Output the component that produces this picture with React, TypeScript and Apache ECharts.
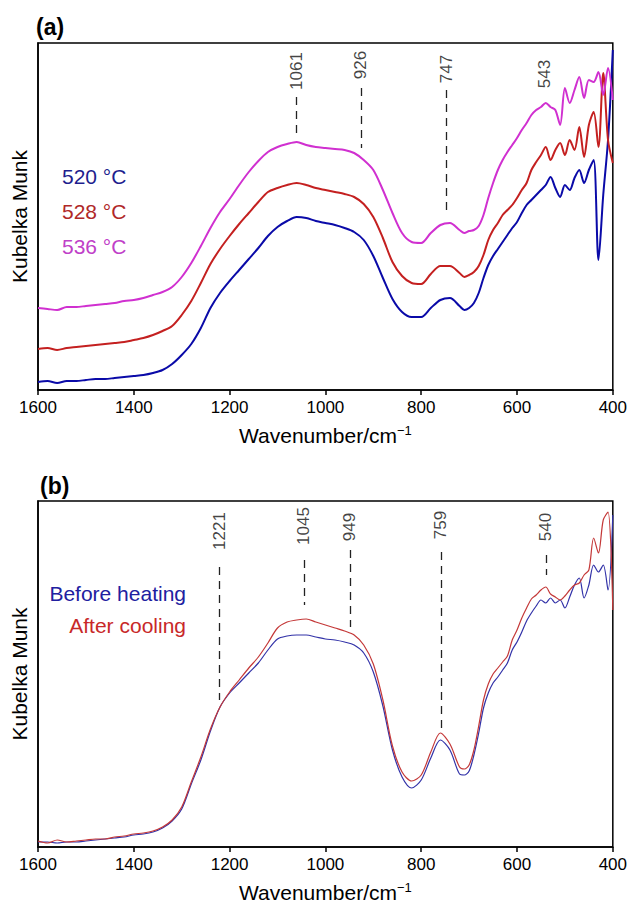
import React, { useEffect, useRef } from "react";
import * as echarts from "echarts";

// Wavenumber grid (cm^-1)
const wavenumbers = [
  1600, 1580, 1560, 1540, 1520, 1500, 1480, 1460, 1440, 1420, 1400, 1380, 1360, 1340, 1320,
  1300, 1280, 1260, 1240, 1220, 1200, 1180, 1160, 1140, 1120, 1100, 1080, 1060, 1040, 1020,
  1000, 980, 960, 940, 920, 900, 880, 860, 840, 820, 800, 780, 760, 740, 720, 710,
  700, 690, 680, 670, 660, 650, 640, 630, 620, 610, 600, 590, 580, 570, 560, 550,
  540, 530, 520, 510, 500, 490, 480, 470, 460, 450, 440, 430, 420, 410, 400,
];

// Panel (a): Kubelka Munk (arbitrary units, offset stacked)
const km520 = [
  8, 9, 7, 9, 9, 10, 11, 11, 12, 13, 14, 15, 17, 20, 26,
  35, 46, 62, 82, 97, 109, 120, 131, 142, 154, 163, 169, 173, 172, 169,
  167, 165, 162, 158, 150, 134, 112, 91, 78, 73, 73, 82, 90, 92, 84, 80,
  82, 87, 97, 112, 125, 134, 141, 148, 155, 162, 168, 177, 185, 190, 195, 200,
  205, 213, 202, 193, 205, 200, 212, 220, 207, 220, 230, 130, 195, 250, 340,
];
const km528 = [
  41, 42, 40, 42, 43, 44, 45, 46, 47, 48, 50, 52, 55, 59, 64,
  75, 89, 107, 126, 141, 154, 166, 177, 188, 198, 202, 205, 207, 205, 202,
  200, 198, 196, 193, 186, 173, 152, 128, 114, 107, 106, 116, 124, 124, 117, 113,
  115, 118, 124, 135, 150, 160, 167, 175, 180, 185, 192, 200, 207, 220, 228, 235,
  243, 230, 240, 247, 235, 250, 240, 263, 233, 265, 278, 243, 317, 250, 227,
];
const km536 = [
  82, 81, 80, 83, 83, 84, 85, 86, 87, 89, 90, 92, 95, 98, 103,
  113, 127, 144, 162, 178, 191, 205, 218, 229, 238, 243, 246, 248, 245, 243,
  242, 241, 240, 237, 230, 220, 200, 177, 157, 148, 147, 157, 165, 167, 160, 157,
  159, 160, 164, 175, 192, 207, 220, 230, 238, 245, 252, 260, 267, 275, 280, 283,
  287, 283, 280, 265, 302, 287, 300, 313, 292, 310, 308, 318, 295, 322, 290,
];

// Panel (b)
const kmBefore = [
  5, 5, 4, 5, 5, 6, 7, 8, 9, 10, 12, 13, 15, 19, 26,
  38, 63, 87, 116, 140, 154, 164, 174, 184, 197, 208, 211, 212, 212, 210,
  208, 207, 205, 202, 194, 175, 141, 97, 70, 59, 67, 89, 107, 97, 73, 72,
  76, 92, 114, 139, 154, 164, 170, 177, 184, 197, 205, 215, 226, 234, 241, 247,
  244, 249, 244, 247, 239, 250, 262, 269, 249, 262, 282, 275, 282, 257, 332,
];
const kmAfter = [
  6, 4, 7, 5, 6, 7, 8, 8, 10, 11, 13, 14, 16, 20, 27,
  40, 65, 90, 118, 140, 155, 167, 179, 190, 204, 219, 225, 227, 228, 225,
  222, 219, 216, 212, 202, 183, 147, 101, 75, 66, 72, 95, 114, 103, 80, 78,
  82, 97, 121, 147, 163, 173, 179, 185, 191, 207, 217, 229, 239, 248, 252, 257,
  260, 253, 250, 247, 251, 257, 262, 264, 272, 277, 309, 294, 327, 335, 237,
];

const peaksA = [1061, 926, 747, 543];
const peaksB = [1221, 1045, 949, 759, 540];

// annotation placement (data units): label centre, dash start, dash end
const peakLabelA = [319, 325, 321, 316];
const peakDashA: (number[] | null)[] = [[293, 253], [302, 242], [300, 175], null];
const peakLabelB = [316, 321, 320, 322, 320];
const peakDashB: (number[] | null)[] = [[280, 147], [287, 242], [297, 220], [295, 117], [292, 272]];

const FONT = "Liberation Sans, Arial, Helvetica, sans-serif";

function pairs(vals: number[]) {
  return wavenumbers.map((w, i) => [w, vals[i]]);
}

export default function App() {
  const ref = useRef<HTMLDivElement>(null);
  useEffect(() => {
    if (!ref.current) return;
    const chart = echarts.init(ref.current, null, { renderer: "svg" });

    const xAxisBase = (gridIndex: number) => ({
      type: "value",
      gridIndex,
      min: 400,
      max: 1600,
      interval: 200,
      inverse: true,
      axisLine: { show: true, lineStyle: { color: "#000", width: 1.5 } },
      axisTick: { show: true, inside: false, length: 5, lineStyle: { color: "#000", width: 1.5 } },
      axisLabel: { fontSize: 17, color: "#000", margin: 9, fontFamily: FONT, formatter: (v: number) => String(v) },
      splitLine: { show: false },
      name: "Wavenumber/cm{sup|−1}",
      nameLocation: "middle",
      nameGap: 34,
      nameTextStyle: {
        fontSize: 21,
        color: "#000",
        fontFamily: FONT,
        rich: { sup: { fontSize: 13, color: "#000", fontFamily: FONT, verticalAlign: "top", padding: [0, 0, 10, 0] } },
      },
    });
    const yAxisBase = (gridIndex: number, max: number) => ({
      type: "value",
      gridIndex,
      min: 0,
      max,
      axisLine: { show: true, lineStyle: { color: "#000", width: 1.5 } },
      axisTick: { show: false },
      axisLabel: { show: false },
      splitLine: { show: false },
      name: "Kubelka Munk",
      nameLocation: "middle",
      nameGap: 8,
      nameTextStyle: { fontSize: 21, color: "#000", fontFamily: FONT },
    });

    const dashSeries = (peaks: number[], dashes: (number[] | null)[], gi: number) => ({
      type: "line",
      xAxisIndex: gi,
      yAxisIndex: gi,
      data: [],
      silent: true,
      markLine: {
        silent: true,
        symbol: "none",
        label: { show: false },
        lineStyle: { color: "#222", width: 1.3, type: [8, 6] },
        data: peaks
          .map((p, i) => (dashes[i] ? [{ coord: [p, dashes[i]![0]] }, { coord: [p, dashes[i]![1]] }] : null))
          .filter((d) => d !== null),
      },
    });
    const labelSeries = (peaks: number[], ys: number[], gi: number) => ({
      type: "scatter",
      xAxisIndex: gi,
      yAxisIndex: gi,
      symbolSize: 1,
      itemStyle: { color: "rgba(0,0,0,0)" },
      silent: true,
      data: peaks.map((p, i) => [p, ys[i]]),
      label: {
        show: true,
        position: "inside",
        rotate: 90,
        align: "center",
        verticalAlign: "middle",
        fontSize: 17,
        color: "#111",
        fontFamily: FONT,
        formatter: (p: any) => String(p.value[0]),
      },
    });

    const lineSeries = (vals: number[], color: string, width: number, gi: number) => ({
      type: "line",
      xAxisIndex: gi,
      yAxisIndex: gi,
      data: pairs(vals),
      symbol: "none",
      smooth: 0.3,
      lineStyle: { color, width },
      silent: true,
    });

    chart.setOption({
      animation: false,
      backgroundColor: "#fff",
      grid: [
        { left: 38, right: 16, top: 43, height: 347, show: true, borderColor: "#000", borderWidth: 1.5, backgroundColor: "transparent" },
        { left: 38, right: 16, top: 501, height: 346, show: true, borderColor: "#000", borderWidth: 1.5, backgroundColor: "transparent" },
      ],
      xAxis: [xAxisBase(0), xAxisBase(1)],
      yAxis: [yAxisBase(0, 347), yAxisBase(1, 346)],
      series: [
        lineSeries(km520, "#0a0aa8", 2, 0),
        lineSeries(km528, "#c42020", 2, 0),
        lineSeries(km536, "#d030d0", 2, 0),
        dashSeries(peaksA, peakDashA, 0),
        labelSeries(peaksA, peakLabelA, 0),
        lineSeries(kmBefore, "#3232a8", 1.2, 1),
        lineSeries(kmAfter, "#c43838", 1.2, 1),
        dashSeries(peaksB, peakDashB, 1),
        labelSeries(peaksB, peakLabelB, 1),
      ],
      graphic: [
        { type: "text", x: 36, y: 27, style: { text: "(a)", fill: "#000", font: `bold 23px ${FONT}`, verticalAlign: "middle", textVerticalAlign: "middle" } },
        { type: "text", x: 40, y: 486, style: { text: "(b)", fill: "#000", font: `bold 23px ${FONT}`, verticalAlign: "middle", textVerticalAlign: "middle" } },
        { type: "text", x: 62, y: 176, style: { text: "520 °C", fill: "#1e1e8e", font: `21px ${FONT}`, verticalAlign: "middle", textVerticalAlign: "middle" } },
        { type: "text", x: 62, y: 211, style: { text: "528 °C", fill: "#b02828", font: `21px ${FONT}`, verticalAlign: "middle", textVerticalAlign: "middle" } },
        { type: "text", x: 62, y: 246, style: { text: "536 °C", fill: "#c040c8", font: `21px ${FONT}`, verticalAlign: "middle", textVerticalAlign: "middle" } },
        { type: "text", x: 186, y: 593, style: { text: "Before heating", fill: "#2020a0", font: `21px ${FONT}`, align: "right", textAlign: "right", verticalAlign: "middle", textVerticalAlign: "middle" } },
        { type: "text", x: 186, y: 625, style: { text: "After cooling", fill: "#c82828", font: `21px ${FONT}`, align: "right", textAlign: "right", verticalAlign: "middle", textVerticalAlign: "middle" } },
      ],
    });
    return () => chart.dispose();
  }, []);
  return <div ref={ref} style={{ position: "fixed", left: 0, top: 0, width: 630, height: 908 }} />;
}
